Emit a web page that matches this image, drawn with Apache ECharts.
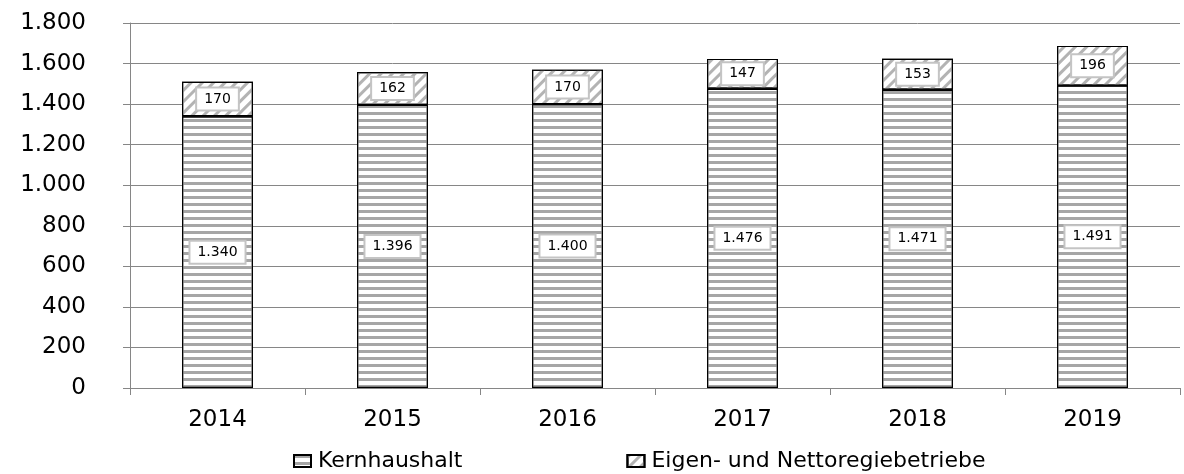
<!DOCTYPE html>
<html>
<head>
<meta charset="utf-8">
<script src="https://cdn.jsdelivr.net/npm/echarts@6/dist/echarts.min.js"></script>
<style>
html,body{margin:0;padding:0;background:#fff;}
#chart{width:1184px;height:474px;}
</style>
</head>
<body>
<div id="chart"></div>
<script>
// Jahre und Werte
var years = ['2014', '2015', '2016', '2017', '2018', '2019'];
var kernhaushalt = [1340, 1396, 1400, 1476, 1471, 1491];
var eigenbetriebe = [170, 162, 170, 147, 153, 196];
var yTicks = [0, 200, 400, 600, 800, 1000, 1200, 1400, 1600, 1800];

var fontName = 'DejaVu Sans';

function fmt(v) {
	// deutsche Tausendertrennung
	return String(v).replace(/\B(?=(\d{3})+(?!\d))/g, '.');
}

var labelBox = {
	show: true,
	position: 'inside',
	color: '#000',
	fontSize: 14,
	fontFamily: fontName,
	backgroundColor: '#fff',
	borderColor: '#c4c4c4',
	borderWidth: 2,
	padding: [4, 7, 3, 7],
	formatter: function (p) { return fmt(p.value); }
};

var chart = echarts.init(document.getElementById('chart'));
var option = {
	animation: false,
	backgroundColor: '#fff',
	grid: {
		left: 130,
		right: 4,
		top: 23,
		bottom: 86
	},
	legend: {
		bottom: 2,
		left: 293,
		padding: 0,
		itemGap: 164,
		itemWidth: 17,
		itemHeight: 12,
		icon: 'rect',
		textStyle: {
			fontFamily: fontName,
			fontSize: 22,
			color: '#000',
			padding: [0, 0, 0, 2]
		},
		data: ['Kernhaushalt', 'Eigen- und Nettoregiebetriebe']
	},
	xAxis: {
		type: 'category',
		data: years,
		axisLine: { lineStyle: { color: '#868686', width: 1 } },
		axisTick: { show: true, length: 7, lineStyle: { color: '#868686' } },
		axisLabel: {
			color: '#000',
			fontSize: 23,
			fontFamily: fontName,
			margin: 21
		}
	},
	yAxis: {
		type: 'value',
		min: yTicks[0],
		max: yTicks[yTicks.length - 1],
		interval: 200,
		axisLine: { show: true, lineStyle: { color: '#868686', width: 1 } },
		axisTick: { show: true, length: 7, lineStyle: { color: '#868686' } },
		splitLine: { lineStyle: { color: '#868686', width: 1 } },
		axisLabel: {
			color: '#000',
			fontSize: 23,
			fontFamily: fontName,
			margin: 44,
			formatter: function (v) { return fmt(v); }
		}
	},
	series: [
		{
			name: 'Kernhaushalt',
			type: 'bar',
			stack: 'gesamt',
			barWidth: 71,
			data: kernhaushalt,
			itemStyle: {
				color: '#fff',
				borderColor: '#000',
				borderWidth: 1.2,
				decal: {
					symbol: 'rect',
					symbolSize: 1,
					color: '#a6a6a6',
					dashArrayX: [1, 0],
					dashArrayY: [3, 4],
					rotation: 0
				}
			},
			label: labelBox
		},
		{
			name: 'Eigen- und Nettoregiebetriebe',
			type: 'bar',
			stack: 'gesamt',
			barWidth: 71,
			data: eigenbetriebe,
			itemStyle: {
				color: '#fff',
				borderColor: '#000',
				borderWidth: 1.2,
				decal: {
					symbol: 'rect',
					symbolSize: 1,
					color: '#b3b3b3',
					dashArrayX: [1, 0],
					dashArrayY: [3, 5],
					rotation: -Math.PI / 4
				}
			},
			label: labelBox
		}
	]
};
chart.setOption(option);
</script>
</body>
</html>
